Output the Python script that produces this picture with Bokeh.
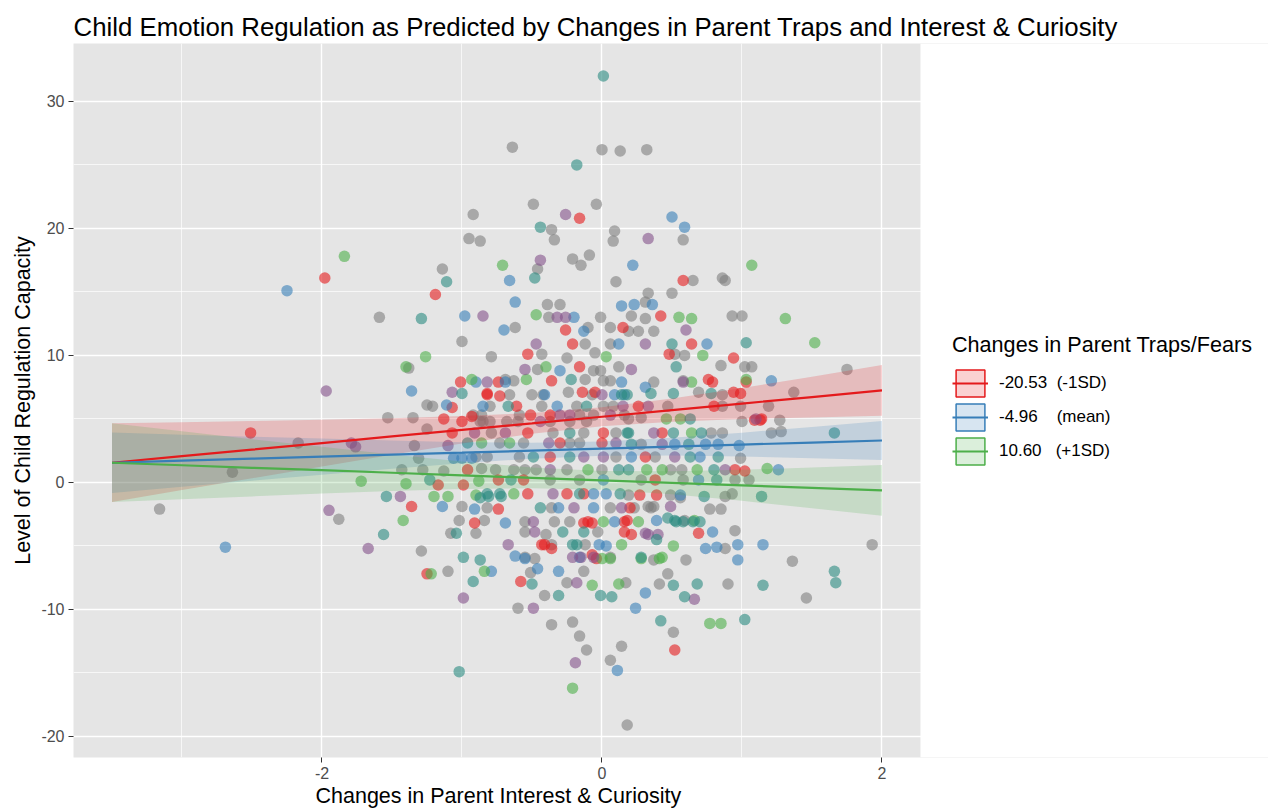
from bokeh.plotting import figure
from bokeh.models import Range1d, FixedTicker, Legend, LegendItem, BoxAnnotation, Title
from bokeh.embed import file_html
from bokeh.resources import INLINE

FONT = "Liberation Sans"

title_text = "Child Emotion Regulation as Predicted by Changes in Parent Traps and Interest & Curiosity"
x_label = "Changes in Parent Interest & Curiosity"
y_label = "Level of Child Regulation Capacity"
legend_title = "Changes in Parent Traps/Fears"
legend_labels = ["-20.53\u00a0\u00a0(-1SD)", "-4.96\u00a0\u00a0\u00a0\u00a0(mean)", "10.60\u00a0\u00a0\u00a0(+1SD)"]

x_ticks = [-2, 0, 2]
x_tick_labels = ["-2", "0", "2"]
x_minor = [-3, -1, 1]
y_ticks = [-20, -10, 0, 10, 20, 30]
y_tick_labels = ["-20", "-10", "0", "10", "20", "30"]
y_minor = [-15, -5, 5, 15, 25]

# panel limits (data units) and the extra room on the right used by the legend
panel_x = (-3.775, 2.275)
panel_y = (-21.66, 34.56)
view_x_end = 4.761

# ---- points (grouped by colour) ----
grey_x = [
    -0.92, -0.95, -0.87, -1.14, -1.59, -1.00, -0.79, -1.38, -1.25, -1.21,
    -0.64, 0.00, 0.13, 0.32, -0.49, -0.04, -0.36, -0.34, 0.09, 0.08,
    0.58, -0.46, -0.21, -0.15, -0.09, 0.10, 0.65, 0.86, 0.88, 0.50,
    0.33, -0.39, -0.30, 0.31, -0.38, -0.01, 0.21, 0.31, 0.93, 1.00,
    -0.62, -0.10, 0.06, 0.19, 0.26, 0.37, -0.43, -0.12, 0.06, -0.05,
    0.52, 0.59, 1.75, -0.25, -0.46, -0.06, -0.01, 0.12, 0.85, 1.02,
    1.07, -0.12, 0.01, 0.06, 0.37, 1.37, 0.69, 0.86, -0.24, -0.50,
    -0.42, -0.69, -0.63,
    -2.17, -2.64, -3.16, -1.88, -1.53, -1.35, -1.25, -1.34, -1.31, -1.43,
    -1.28, -1.13, -1.00, -1.02, -1.08, -1.29, -1.10, -0.90, -0.84, -0.86,
    -0.87, -0.85,
    1.93, 1.36, 1.46, 0.90, 0.95, 0.88, 0.77, 0.85, 0.88, 0.93,
    0.99, 1.05, 1.00, 1.27, 1.28, 0.60, 0.47, 0.41, 0.51, 0.18,
    0.14, 0.06, -0.11, -0.16, -0.21, -0.36, -0.60, -0.41, 0.17, -0.25,
    -0.13, -0.51, -0.48, -0.55, -0.55, -0.40, -0.12, 0.37, 0.56, 0.33,
    0.37,
    -0.66, -0.07, -0.80, -0.43, -0.18, 0.01, 0.08, -0.92, -0.86, -0.59,
    -0.16, -0.06, 0.16, -0.80, -0.68, -0.60, -0.37, -0.23, -0.11, -0.79,
    -0.35, -0.13, 0.10, -0.73, -0.56, -0.23, -0.16, -0.90, -0.82, -0.59,
    0.10, -0.76, -0.63, -0.55, -0.47, -0.25, 0.00,
    0.58, 0.47, 0.86, 0.99, 1.19, 0.19, 0.28, 0.78, 0.86, 1.21,
    0.28, 0.38, 0.49, 0.57,
    -0.37, -0.16, -0.82, -0.36, 0.06, -0.34, -0.23, -0.03, -0.36, -0.55,
    0.06,
    0.28, 0.58, 0.95, 0.19, 0.49, 0.23, 0.35, 0.59,
]
grey_y = [
    21.1, 19.2, 19.0, 16.8, 13.0, 11.1, 9.9, 9.0, 6.1, 6.0,
    26.4, 26.2, 26.1, 26.2, 21.9, 21.9, 19.9, 19.1, 19.8, 19.0,
    19.1, 16.8, 17.6, 17.1, 17.9, 15.8, 15.9, 16.1, 15.9, 14.9,
    14.9, 14.0, 14.0, 14.2, 13.0, 13.0, 13.1, 12.9, 13.1, 13.1,
    12.2, 12.2, 12.2, 11.9, 11.9, 11.9, 10.1, 10.9, 10.9, 10.2,
    10.1, 10.0, 8.9, 9.8, 8.9, 8.8, 8.8, 9.1, 9.2, 9.1,
    9.1, 8.1, 8.0, 8.0, 7.9, 7.1, 7.1, 6.9, 7.1, 6.9,
    6.9, 8.1, 8.0,
    3.1, 0.8, -2.1, -2.9, 5.1, 5.1, 4.2, 2.9, 1.9, 1.0,
    1.0, 0.9, -1.9, -3.0, -4.0, -5.4, -7.0, -4.0, -3.0, 1.1,
    4.8, 4.8,
    -4.9, -6.2, -9.1, -8.0, -3.8, -5.2, -2.1, -2.1, -1.1, -0.9,
    1.9, 0.2, 4.8, 4.9, 4.0, -6.1, -7.2, -8.0, -11.8, -19.1,
    -12.9, -14.0, -13.2, -12.1, -11.0, -11.2, -9.9, -8.9, -7.9, -7.9,
    -7.0, -7.1, -6.0, -3.1, -3.9, -4.1, -4.9, -6.1, -1.2, -1.9,
    -1.9,
    6.9, 6.9, 6.0, 6.0, 6.0, 6.0, 6.0, 5.3, 5.3, 5.3,
    5.3, 5.3, 5.3, 4.8, 4.8, 4.8, 4.8, 4.8, 4.8, 3.9,
    3.9, 3.9, 3.9, 3.1, 3.1, 3.1, 3.1, 2.0, 2.0, 2.0,
    2.0, 1.0, 1.0, 1.0, 1.0, 1.0, 1.0,
    8.0, 6.0, 6.0, 6.0, 6.0, 5.0, 5.1, 3.9, 3.9, 3.9,
    3.0, 2.0, 1.0, 1.0,
    0.2, 0.2, -2.0, -2.0, -2.0, -3.1, -3.1, -3.9, -4.9, -5.9,
    -5.9,
    0.2, 0.2, 0.2, -1.0, -1.0, -2.0, -2.0, -3.0,
]

red_x = [
    -1.98, -1.19, -1.01, -0.82, -1.07,
    -0.16, 0.58, 0.42, -0.26, 0.15, -0.21, 0.64, -0.53, 0.48, 0.94,
    -0.16, -0.36, 0.76, 0.79, 1.03, 0.94, -0.14, -0.05, -0.74,
    -2.51, -1.13, -1.00, -1.17, -1.36, -1.25, -0.91, -0.99, -0.96, -1.07,
    -0.93,
    0.95, 1.02, 1.09, 1.13, 0.69, 0.52, -0.58, -0.41, -0.36, -0.07,
    -0.04, 0.16, 0.21, -0.13, -0.07, -0.74,
    -0.82, -0.73, -0.61, -0.51, -0.37, -0.53, 0.01, -0.30, 0.00, -0.37,
    0.99, 0.26, 0.80, 1.14, 0.43, 0.31,
    -0.74, -0.56, -0.53, -0.25, -0.13, -0.10, 0.16, -0.43,
    0.38, 0.27, 0.39, 0.20, 0.18,
]
red_y = [
    16.1, 14.8, 7.9, 7.0, 5.9,
    20.8, 15.9, 13.1, 12.0, 12.2, 10.9, 10.9, 10.1, 10.1, 9.8,
    9.1, 8.0, 8.1, 7.9, 7.9, 7.1, 7.1, 7.1, 7.9,
    3.9, 5.0, 4.8, -0.2, -1.9, -7.2, -3.2, -0.2, 1.0, 3.9,
    5.2,
    1.0, 0.9, 4.9, 4.9, -4.0, -13.2, -7.8, -4.9, -5.2, -5.7,
    -6.0, -3.9, -4.1, -3.2, -3.2, -2.1,
    6.9, 6.8, 6.0, 5.3, 5.3, 3.9, 3.9, 3.1, 3.1, 2.0,
    7.0, 6.0, 6.0, 5.0, 3.9, 2.0,
    0.2, 0.2, -0.9, -0.9, -0.9, -3.1, -3.1, -4.9,
    0.2, -1.0, -1.0, -2.0, -3.0,
]

blue_x = [
    -2.25, -0.98, -1.36, -1.11,
    0.50, 0.59, -0.66, 0.22, -0.62, 0.14, 0.23, 0.36, -0.20, -0.70,
    -0.13, 0.12, 0.75, -0.30, 0.31, 1.21, 0.16, 0.09,
    -2.69, -1.14, -0.79, -0.91, -1.06, -1.00, -0.93,
    1.26, 1.15, 0.97, 0.97, 0.82, 0.74, 0.79, 0.98, 0.11, 0.24,
    0.31, -0.31, -0.46, -0.62, -0.55, -0.69, -0.02, 0.03, -0.06,
    -0.90, -0.69, 0.14, -0.41, -0.85, -0.32,
    0.52, 0.74, 0.83, 0.21, 0.70,
    0.01, -0.06, 0.03, -0.31, 0.09, -0.16,
    0.69, 0.56, 0.39,
]
blue_y = [
    15.1, 13.1, 7.2, 6.1,
    20.9, 20.1, 15.9, 17.1, 14.2, 13.9, 14.0, 14.0, 13.0, 12.0,
    11.9, 10.9, 10.9, 8.8, 7.5, 8.0, 6.9, 6.9,
    -5.1, -1.9, -7.0, -2.1, 1.9, 1.9, 1.9,
    1.0, -4.9, -4.9, -6.1, -5.1, -5.2, -3.9, 2.9, -14.8, -9.9,
    -8.7, -7.0, -6.8, -5.8, -6.0, -3.2, -4.9, -5.0, -2.0,
    7.9, 7.9, 7.9, 6.9, 6.0, 6.0,
    3.0, 3.0, 3.0, 2.0, 2.0,
    0.2, -0.9, -0.9, -2.0, -3.1, -5.9,
    0.2, -1.0, -3.0,
]

green_x = [
    -1.84, -1.26, -1.40, -0.93,
    -0.71, 1.07, -0.47, 0.55, 0.64, 1.31, 1.52, 0.03, 0.72, -0.40,
    -0.54, 0.64, 1.03,
    -1.72, -1.40, -1.20, -1.10, -1.42, -1.22, -0.84, -0.90, -0.88, -0.86,
    1.18, 0.77, 0.85, -0.21, -0.07, 0.12, 0.00, 0.06, 0.14, 0.01,
    0.26, 0.43, 0.51,
    -0.66, -0.10,
    0.46, 0.56, 0.64, 0.32, 0.43, 0.68,
    -0.63,
    0.66, 0.28, 0.41,
]
green_y = [
    17.8, 9.9, 9.1, 8.1,
    17.1, 17.1, 13.2, 13.0, 12.9, 12.9, 11.0, 9.9, 10.0, 9.1,
    8.1, 7.9, 8.1,
    0.1, -0.1, -1.1, -1.1, -3.0, -7.2, -7.0, -1.0, 0.1, 3.1,
    1.1, -11.1, -11.1, -16.2, -8.1, -8.0, -6.0, -6.0, -4.9, -3.1,
    -3.1, -5.9, -5.0,
    3.1, 1.0,
    5.0, 5.0, 3.9, 1.0, 1.0, 1.0,
    -0.9,
    -3.0, -6.0, -6.0,
]

purple_x = [
    -0.85, -1.97, -0.82, -1.07,
    -0.26, 0.33, -0.44, -0.32, -0.26, 0.60, -0.47, 0.31, -0.55, 0.21,
    0.58,
    -1.79, -1.76, -1.95, -1.67, -1.10, -1.44, -0.99,
    0.66, -0.19, -0.49, -0.18, -0.67, -0.48, -0.21, -0.15, 0.33, 0.40,
    0.49,
    0.00, 0.15, -0.30, -0.23, 0.06, -0.44, -0.91, -0.69, -0.38, 0.10,
    -0.13, 0.01, -0.37,
    0.33, 1.10, 0.37, 0.43, 0.52, 0.88,
    -0.35, -0.20, 0.14, -0.49, -0.06,
    0.31,
]
purple_y = [
    13.1, 7.2, 7.9, 7.1,
    21.1, 19.2, 17.5, 13.0, 13.0, 12.0, 10.9, 10.9, 8.9, 8.9,
    7.9,
    3.1, 2.8, -2.2, -5.2, 2.9, -1.1, -9.1,
    -9.2, -14.2, -9.9, -7.9, -4.9, -3.9, -5.9, -5.9, -4.1, -4.1,
    -1.9,
    6.9, 6.0, 5.3, 5.3, 5.3, 4.8, 3.9, 3.9, 3.1, 3.1,
    2.0, 2.0, 1.0,
    6.0, 5.0, 3.9, 3.0, 2.0, 1.0,
    -0.9, -2.0, -2.0, -3.1, -5.9,
    -4.0,
]

teal_x = [
    -1.11, -1.29, -1.00,
    0.01, -0.18, -0.44, -0.48, 0.50, 1.03, 0.53, -0.22, 0.51, 0.35,
    -1.23, -1.54, -1.56, -1.04, -0.99, -0.92, -1.02, -0.87, -0.87, -0.81,
    -0.96,
    1.66, 1.67, 1.66, 1.14, 1.15, 1.02, 0.73, 0.68, 0.59, 0.51,
    0.42, -0.31, -0.01, 0.07, -0.50, -0.28, -0.21, -0.18, 0.28, 0.39,
    0.47, 0.53, 0.58, 0.65, 0.70, -0.72,
    0.14, -0.67, -0.11, -0.23, 0.18, -0.49, -0.23, 0.12,
    0.18, 0.78, 0.63, 0.19, 0.51, 0.71, 0.21, 0.62, 0.63, 0.83,
    0.19, 0.80,
    -0.65, -0.82, -0.73, -0.16, 0.13, -0.44, -0.13,
    0.82, 0.52,
]
teal_y = [
    15.8, 12.9, 7.0,
    32.0, 25.0, 20.1, 16.1, 10.9, 11.0, 9.1, 8.1, 7.0, 7.0,
    0.2, -1.1, -4.1, -4.0, -5.9, -7.8, -14.9, -6.1, -1.2, -1.1,
    3.1,
    -7.0, -7.9, 3.9, -1.1, -8.1, -10.8, -1.1, -8.0, -9.0, -8.1,
    -10.9, -8.9, -8.9, -9.0, -8.0, -3.9, -4.9, -4.9, -5.9, -4.5,
    -2.8, -3.1, -3.1, -3.1, -3.1, -1.1,
    6.9, 6.0, 6.0, 3.9, 3.9, 2.0, 2.0, 1.0,
    6.9, 7.0, 5.0, 3.9, 3.9, 3.9, 3.0, 3.0, 2.0, 2.0,
    1.0, 1.0,
    0.2, -0.9, -0.9, -0.9, -0.9, -2.0, -3.9,
    0.2, -3.0,
]

# ---- fitted lines and confidence bands ----
fit_x = [-3.5, -3.0, -2.5, -2.0, -1.5, -1.0, -0.5, 0.0, 0.5, 1.0, 1.5, 2.0]
red_fit = [1.55, 2.07, 2.58, 3.10, 3.62, 4.14, 4.65, 5.17, 5.69, 6.21, 6.72, 7.24]
red_low = [-1.55, -0.60, 0.33, 1.26, 2.18, 3.06, 3.83, 4.43, 4.78, 4.99, 5.12, 5.24]
red_high = [4.65, 4.74, 4.83, 4.94, 5.06, 5.22, 5.47, 5.91, 6.60, 7.43, 8.32, 9.24]
blue_fit = [1.55, 1.71, 1.87, 2.03, 2.19, 2.34, 2.50, 2.66, 2.82, 2.98, 3.14, 3.30]
blue_low = [-0.84, -0.34, 0.14, 0.61, 1.08, 1.51, 1.87, 2.09, 2.12, 2.04, 1.91, 1.76]
blue_high = [3.94, 3.76, 3.60, 3.45, 3.30, 3.17, 3.13, 3.23, 3.52, 3.92, 4.37, 4.84]
green_fit = [1.55, 1.35, 1.15, 0.96, 0.76, 0.56, 0.36, 0.16, -0.03, -0.23, -0.43, -0.63]
green_low = [-1.55, -1.32, -1.10, -0.88, -0.68, -0.52, -0.46, -0.58, -0.94, -1.45, -2.03, -2.63]
green_high = [4.65, 4.02, 3.40, 2.80, 2.20, 1.64, 1.18, 0.90, 0.88, 0.99, 1.17, 1.37]

RED, BLUE, GREEN = "#E41A1C", "#377EB8", "#4DAF4A"
point_groups = [
    (grey_x, grey_y, "#7F7F7F"),
    (red_x, red_y, RED),
    (blue_x, blue_y, BLUE),
    (green_x, green_y, GREEN),
    (purple_x, purple_y, "#83518B"),
    (teal_x, teal_y, "#2A8A80"),
]

p = figure(width=1268, height=810,
           x_range=Range1d(panel_x[0], view_x_end), y_range=Range1d(*panel_y),
           output_backend="svg", toolbar_location=None,
           min_border_left=73, min_border_right=0, min_border_top=43, min_border_bottom=53)

p.background_fill_color = "#E5E5E5"
p.border_fill_color = "white"
p.outline_line_color = None

p.title.text = title_text
p.title.text_font = FONT
p.title.text_font_size = "25.8px"
p.title.text_font_style = "normal"
p.title.text_color = "black"
p.title.standoff = 6

p.xaxis.ticker = FixedTicker(ticks=x_ticks, minor_ticks=x_minor)
p.yaxis.ticker = FixedTicker(ticks=y_ticks, minor_ticks=y_minor)
p.xaxis.major_label_overrides = dict(zip(x_ticks, x_tick_labels))
p.yaxis.major_label_overrides = dict(zip(y_ticks, y_tick_labels))
p.xaxis.bounds = panel_x
p.yaxis.axis_label = y_label
for ax in (p.xaxis, p.yaxis):
    ax.axis_line_color = None
    ax.major_tick_line_color = "#333333"
    ax.major_tick_line_width = 1
    ax.major_tick_out = 5
    ax.major_tick_in = 0
    ax.minor_tick_line_color = None
    ax.major_label_text_font = FONT
    ax.major_label_text_font_size = "16px"
    ax.major_label_text_color = "#4D4D4D"
    ax.major_label_standoff = 4
    ax.axis_label_text_font = FONT
    ax.axis_label_text_font_size = "21.5px"
    ax.axis_label_text_font_style = "normal"
    ax.axis_label_text_color = "black"
p.yaxis.axis_label_standoff = 3

# x-axis title, centred under the grey panel (not under the whole frame)
xt = Title(text=x_label, align="left", offset=242, standoff=1,
           text_font=FONT, text_font_size="21.5px", text_font_style="normal",
           text_color="black")
p.add_layout(xt, "below")

for g in (p.xgrid, p.ygrid):
    g.grid_line_color = "white"
    g.grid_line_width = 1.4
    g.minor_grid_line_color = "white"
    g.minor_grid_line_width = 0.7

for gx, gy, col in point_groups:
    p.scatter(gx, gy, size=11.5, fill_color=col, fill_alpha=0.6, line_color=None)

bands = [(red_low, red_high, RED), (blue_low, blue_high, BLUE), (green_low, green_high, GREEN)]
for lo, hi, col in bands:
    p.varea(x=fit_x, y1=lo, y2=hi, fill_color=col, fill_alpha=0.2)

items = []
for (fit, lo, hi, col), lab in zip(
        [(red_fit, red_low, red_high, RED), (blue_fit, blue_low, blue_high, BLUE),
         (green_fit, green_low, green_high, GREEN)], legend_labels):
    ln = p.line(fit_x, fit, line_color=col, line_width=2.2)
    key = p.quad(left=[min(fit_x)], right=[max(fit_x)], bottom=[min(lo)], top=[max(hi)],
                 fill_color=col, fill_alpha=0.2, line_color=col, line_width=1.5)
    key.visible = False
    items.append(LegendItem(label=lab, renderers=[key, ln]))

# blank out everything right of the panel (legend area)
p.add_layout(BoxAnnotation(left=panel_x[1], fill_color="white", fill_alpha=1.0,
                           line_color=None, line_alpha=0))

legend = Legend(items=items, location=(879, 289))
legend.title = legend_title
legend.title_text_font = FONT
legend.title_text_font_size = "21.6px"
legend.title_text_font_style = "normal"
legend.title_text_color = "black"
legend.title_standoff = 8
legend.label_text_font = FONT
legend.label_text_font_size = "17px"
legend.label_text_color = "black"
legend.label_standoff = 11
legend.glyph_width = 36
legend.glyph_height = 34
legend.spacing = -3
legend.padding = 10
legend.margin = 0
legend.border_line_color = None
legend.background_fill_alpha = 0
legend.click_policy = "none"
p.add_layout(legend)

open("out.html", "w").write(file_html(p, INLINE))
